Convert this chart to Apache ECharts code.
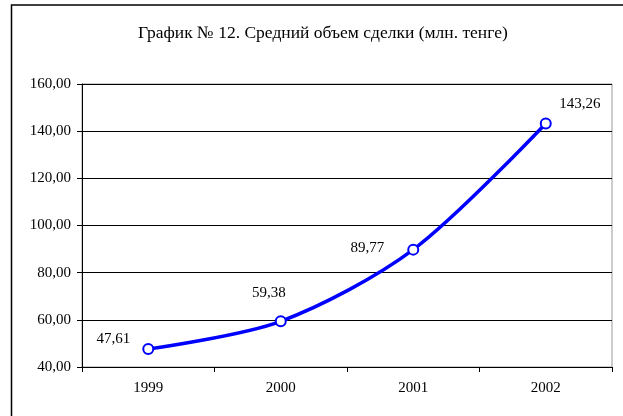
<!DOCTYPE html>
<html>
<head>
<meta charset="utf-8">
<script src="https://cdn.jsdelivr.net/npm/echarts@6/dist/echarts.min.js"></script>
<style>
  html, body { margin: 0; padding: 0; background: #fff; }
  #chart { width: 623px; height: 416px; }
</style>
</head>
<body>
<div id="chart"></div>
<script>
const years = ["1999", "2000", "2001", "2002"];
const avgDeal = [47.61, 59.38, 89.77, 143.26];
// сдвиг подписей от центра точки
const labelOffsets = [[-35, -10], [-12, -28], [-46, -2], [34, -19]];

const fmt = v => v.toFixed(2).replace(".", ",");
const serif = "'Liberation Serif', 'Times New Roman', serif";

const chart = echarts.init(document.getElementById("chart"));

chart.setOption({
  backgroundColor: "#fff",
  animation: false,
  title: {
    text: "График № 12. Средний объем сделки (млн. тенге)",
    left: 133,
    top: 19,
    textStyle: { fontFamily: serif, fontSize: 17.5, fontWeight: "normal", color: "#000" }
  },
  graphic: [{
    type: "rect",
    shape: { x: 11.5, y: 5, width: 640, height: 440 },
    style: { fill: "none", stroke: "#000", lineWidth: 1.5 },
    z: -1
  }],
  grid: {
    left: 82, right: 11, top: 84, bottom: 49,
    show: true, borderColor: "#999", borderWidth: 1
  },
  xAxis: {
    type: "category",
    data: years,
    boundaryGap: true,
    axisLine: { lineStyle: { color: "#000", width: 1 } },
    axisTick: { show: true, length: 5, lineStyle: { color: "#000" } },
    axisLabel: { color: "#000", fontFamily: serif, fontSize: 15, margin: 14 },
    splitLine: { show: false }
  },
  yAxis: {
    type: "value",
    min: 40, max: 160, interval: 20,
    axisLine: { show: true, lineStyle: { color: "#000", width: 1 } },
    axisTick: { show: true, length: 5, lineStyle: { color: "#000" } },
    axisLabel: { color: "#000", fontFamily: serif, fontSize: 15, margin: 11, formatter: fmt },
    splitLine: { show: true, lineStyle: { color: "#000", width: 1 } }
  },
  series: [{
    type: "line",
    data: avgDeal.map((v, i) => ({
      value: v,
      label: { offset: labelOffsets[i] }
    })),
    smooth: 0.3,
    symbol: "circle",
    symbolSize: 10,
    lineStyle: { color: "#0000ff", width: 3.5 },
    itemStyle: { color: "#fff", borderColor: "#0000ff", borderWidth: 2 },
    label: {
      show: true,
      position: "inside",
      color: "#000",
      fontFamily: serif,
      fontSize: 15,
      formatter: p => fmt(p.value)
    }
  }]
});
</script>
</body>
</html>
